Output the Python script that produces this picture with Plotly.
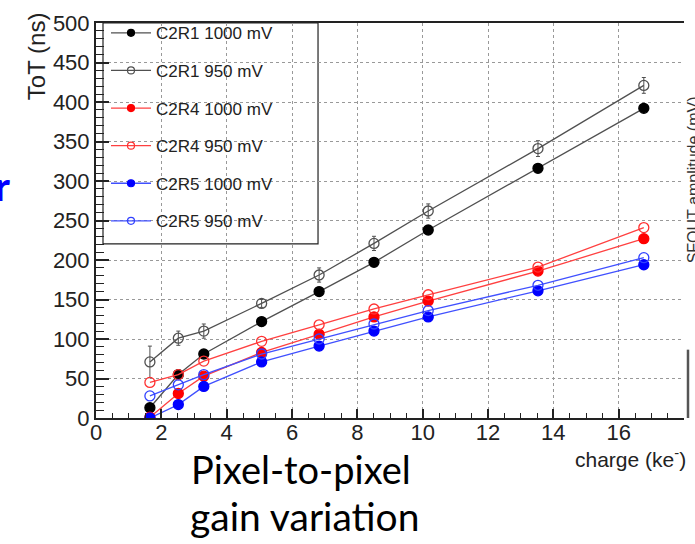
import plotly.graph_objects as go

charge = [1.65, 2.52, 3.30, 5.07, 6.83, 8.51, 10.17, 13.53, 16.77]

c2r1_1000 = [13, 55, 81, 122, 160, 197, 238, 316, 392]
c2r1_950 = [71, 101, 110, 145, 181, 221, 262, 341, 421]
c2r1_950_err = [20, 9, 9, 5, 9, 9, 9, 10, 10]
c2r4_1000 = [1, 31, 53, 83, 106, 128, 148, 186, 227]
c2r4_950 = [45, 55, 72, 97, 118, 138, 156, 191, 241]
c2r5_1000 = [0, 17, 40, 71, 91, 110, 128, 161, 194]
c2r5_950 = [28, 42, 55, 81, 100, 119, 136, 168, 203]

series_names = ["C2R1 1000 mV", "C2R1 950 mV", "C2R4 1000 mV",
                "C2R4 950 mV", "C2R5 1000 mV", "C2R5 950 mV"]

y_ticks = [0, 50, 100, 150, 200, 250, 300, 350, 400, 450, 500]
x_ticks = [0, 2, 4, 6, 8, 10, 12, 14, 16, 18]

FONT = "Liberation Sans, Arial, sans-serif"
SLIDE = "Lato, sans-serif"

fig = go.Figure()

styles = [
    (c2r1_1000, "#505050", "#000000", "circle", None),
    (c2r1_950, "#505050", "#505050", "circle-open", c2r1_950_err),
    (c2r4_1000, "#ff4040", "#ff0000", "circle", None),
    (c2r4_950, "#ff4040", "#ff3030", "circle-open", None),
    (c2r5_1000, "#4050ff", "#0000ff", "circle", None),
    (c2r5_950, "#4050ff", "#3040ff", "circle-open", None),
]

for i, (vals, lc, mc, sym, err) in enumerate(styles):
    kw = {}
    if err is not None:
        kw["error_y"] = dict(type="data", array=err, visible=True,
                             color="#505050", thickness=1, width=2)
    fig.add_trace(go.Scatter(
        x=charge, y=vals, name=series_names[i], mode="lines+markers",
        line=dict(color=lc, width=1.3),
        marker=dict(color=mc, symbol=sym, size=10,
                    line=dict(color=mc, width=1.3)),
        showlegend=False,
        **kw))
    # legend entry with the small legend marker
    fig.add_trace(go.Scatter(
        x=[None], y=[None], name=series_names[i], mode="lines+markers",
        line=dict(color=lc, width=1.3),
        marker=dict(color=mc, symbol=sym, size=7,
                    line=dict(color=mc, width=1.2)),
        legendgroup=f"g{i}", showlegend=True))

fig.update_layout(
    width=695, height=544,
    margin=dict(l=96, r=11, t=14, b=126),
    paper_bgcolor="white", plot_bgcolor="white",
    font=dict(family=FONT, color="#222222"),
    showlegend=True,
    legend=dict(x=0.017, y=1.0195, xanchor="left", yanchor="top",
                bgcolor="rgba(0,0,0,0)", borderwidth=0,
                font=dict(family=FONT, size=17, color="#222222"),
                traceorder="grouped", tracegroupgap=12.5,
                itemwidth=40),
    xaxis=dict(range=[0, 18], tickvals=x_ticks, ticks="inside", ticklen=9,
               tickwidth=1.5, tickcolor="#222222",
               showline=True, linecolor="#222222", linewidth=2, mirror=True,
               showgrid=True, gridcolor="#999999", griddash="dot", gridwidth=1,
               zeroline=False, ticklabelstandoff=-6,
               tickfont=dict(size=22, family=FONT, color="#222222"),
               minor=dict(dtick=0.5, ticklen=5, ticks="inside",
                          tickcolor="#222222", tickwidth=1.2, showgrid=False)),
    yaxis=dict(range=[0, 500], tickvals=y_ticks, ticks="inside", ticklen=13,
               tickwidth=1.5, tickcolor="#222222",
               showline=True, linecolor="#222222", linewidth=2,
               showgrid=True, gridcolor="#999999", griddash="dot", gridwidth=1,
               zeroline=False, ticklabelstandoff=0,
               tickfont=dict(size=22, family=FONT, color="#222222"),
               minor=dict(dtick=10, ticklen=8, ticks="inside",
                          tickcolor="#222222", tickwidth=1.2, showgrid=False)),
)

# legend frame
fig.add_shape(type="rect", xref="paper", yref="paper",
              x0=0.0119, x1=0.3776, y0=0.4406, y1=1.0,
              line=dict(color="#222222", width=1.2), fillcolor="white",
              layer="below")

# partial secondary axis remnant on the right
fig.add_shape(type="line", xref="paper", yref="paper",
              x0=1.0068, x1=1.0068, y0=0, y1=0.173,
              line=dict(color="#555555", width=2.5))

ann = [
    dict(text="ToT (ns)", x=-0.102, y=0.916, textangle=-90,
         font=dict(size=24, family=FONT, color="#222222"),
         xanchor="center", yanchor="middle"),
    dict(text="charge (ke<sup>-</sup>)", x=1.0068, y=-0.1015,
         font=dict(size=21, family=FONT, color="#222222"),
         xanchor="right", yanchor="middle"),
    dict(text="SFOUT amplitude (mV)", x=0.999, y=0.604, textangle=-90,
         font=dict(size=16, family=FONT, color="#333333"),
         xanchor="left", yanchor="middle"),
    dict(text="Pixel-to-pixel", x=0.3486, y=-0.130,
         font=dict(size=38, family=SLIDE, color="#000000"),
         xanchor="center", yanchor="middle"),
    dict(text="gain variation", x=0.355, y=-0.248,
         font=dict(size=39, family=SLIDE, color="#000000"),
         xanchor="center", yanchor="middle"),
    dict(text="<b>r</b>", x=-0.1429, y=0.5866,
         font=dict(size=40, family=SLIDE, color="#0000ff"),
         xanchor="right", yanchor="middle"),
]
for a in ann:
    fig.add_annotation(xref="paper", yref="paper", showarrow=False, **a)

fig.write_html("out.html",
               config={"displayModeBar": False},
               post_script="document.body.style.margin='0';"
                           "document.body.style.overflow='hidden';")
